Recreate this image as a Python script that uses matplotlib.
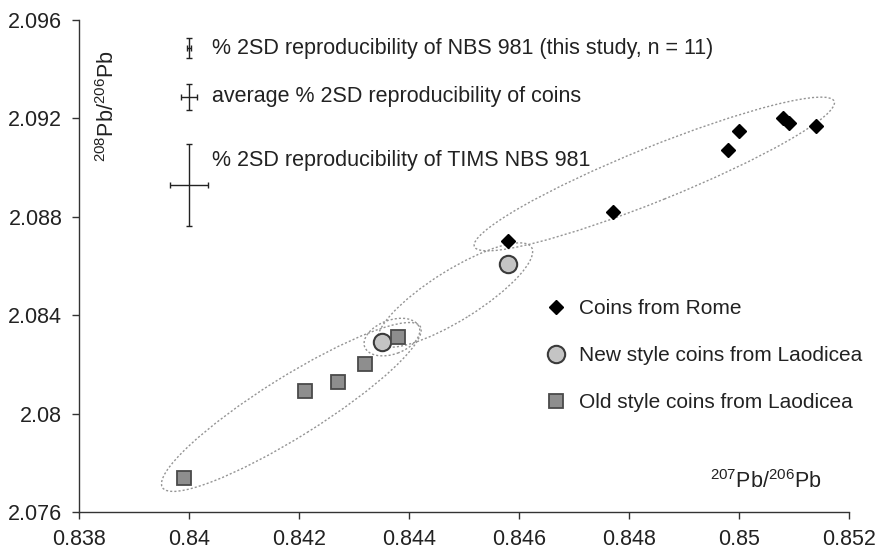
import numpy as np
import matplotlib
matplotlib.use("Agg")
import matplotlib.pyplot as plt
from matplotlib.patches import Ellipse
from matplotlib.transforms import ScaledTranslation
from matplotlib.ticker import FuncFormatter

plt.rcParams['font.family'] = ['Liberation Sans', 'DejaVu Sans']
plt.rcParams['mathtext.fontset'] = 'custom'
plt.rcParams['mathtext.rm'] = 'Liberation Sans'
plt.rcParams['mathtext.it'] = 'Liberation Sans'
plt.rcParams['font.size'] = 15.5

# 207Pb/206Pb vs 208Pb/206Pb
rome_x = [0.8458, 0.8477, 0.8498, 0.8500, 0.8508, 0.8509, 0.8514]
rome_y = [2.0870, 2.0882, 2.0907, 2.0915, 2.0920, 2.0918, 2.0917]

new_x = [0.8435, 0.8458]
new_y = [2.0829, 2.0861]

old_x = [0.8399, 0.8421, 0.8427, 0.8432, 0.8438]
old_y = [2.0774, 2.0809, 2.0813, 2.0820, 2.0831]

# reproducibility keys: x, y, xerr, yerr, label
key_x = [0.8400, 0.8400, 0.8400]
key_y = [2.09485, 2.09288, 2.08929]
key_xerr = [0.00004, 0.00014, 0.00035]
key_yerr = [0.00041, 0.00052, 0.00166]
key_caps = [2.0, 2.5, 2.5]
key_labels = ['% 2SD reproducibility of NBS 981 (this study, n = 11)',
              'average % 2SD reproducibility of coins',
              '% 2SD reproducibility of TIMS NBS 981']
key_text_y = [2.09485, 2.09288, 2.0903]

# grouping ellipses: centre (data), semi-axes (px), angle (deg)
ell_cx = [0.84846, 0.84484, 0.84369, 0.84186]
ell_cy = [2.08974, 2.08482, 2.08311, 2.08027]
ell_a = [194, 90, 29, 152]
ell_b = [27, 25, 17, 30]
ell_ang = [22, 32, 20, 32]

fig = plt.figure(figsize=(8.77, 5.49), dpi=100)
ax = fig.add_axes([79 / 877, 37 / 549, 770 / 877, 492 / 549])

for cx, cy, a, b, ang in zip(ell_cx, ell_cy, ell_a, ell_b, ell_ang):
    tr = fig.dpi_scale_trans + ScaledTranslation(cx, cy, ax.transData)
    e = Ellipse((0, 0), 2 * a / 100, 2 * b / 100, angle=ang, transform=tr,
                fill=False, edgecolor='#949494', linestyle=(0, (1.5, 1.5)),
                linewidth=1.0, zorder=1)
    ax.add_patch(e)

ax.plot(rome_x, rome_y, linestyle='none', marker='D', markersize=7,
        color='black', label='Coins from Rome', zorder=3)
ax.plot(new_x, new_y, linestyle='none', marker='o', markersize=12.5,
        markerfacecolor='#c4c4c4', markeredgecolor='#3a3a3a',
        markeredgewidth=1.5, label='New style coins from Laodicea', zorder=3)
ax.plot(old_x, old_y, linestyle='none', marker='s', markersize=10.5,
        markerfacecolor='#8e8e8e', markeredgecolor='#4a4a4a',
        markeredgewidth=1.3, label='Old style coins from Laodicea', zorder=3)

for x, y, xe, ye, cs, lab, ty in zip(key_x, key_y, key_xerr, key_yerr,
                                     key_caps, key_labels, key_text_y):
    ax.errorbar([x], [y], xerr=[xe], yerr=[ye], fmt='none', ecolor='#222222',
                elinewidth=1.0, capsize=cs, capthick=1.0)
    ax.text(x + 0.00042, ty, lab, ha='left', va='center', color='#222222')

leg = ax.legend(loc='upper left', bbox_to_anchor=(0.603, 0.432), frameon=False,
                handletextpad=0.45, labelspacing=1.33, handlelength=1.25,
                borderpad=0, borderaxespad=0, numpoints=1, fontsize=15)
for t in leg.get_texts():
    t.set_color('#222222')

ax.set_xlim(0.838, 0.852)
ax.set_ylim(2.076, 2.096)
ax.set_xticks(np.arange(0.838, 0.8521, 0.002))
ax.set_yticks(np.arange(2.076, 2.0961, 0.004))
fmt = FuncFormatter(lambda v, p: '%g' % round(v, 4))
ax.xaxis.set_major_formatter(fmt)
ax.yaxis.set_major_formatter(fmt)

for s in ['top', 'right']:
    ax.spines[s].set_visible(False)
for s in ['left', 'bottom']:
    ax.spines[s].set_color('#333333')
    ax.spines[s].set_linewidth(1.0)
ax.tick_params(direction='out', length=5, width=1.0, color='#333333',
               labelcolor='#222222', labelsize=15.5, pad=7)

ax.text(0.892, 0.061, r'$^{207}$Pb/$^{206}$Pb', transform=ax.transAxes,
        ha='center', va='center', color='#222222')
ax.text(0.037, 0.825, r'$^{208}$Pb/$^{206}$Pb', transform=ax.transAxes,
        ha='center', va='center', rotation=90, color='#222222')

fig.savefig('out.png', dpi=100)
